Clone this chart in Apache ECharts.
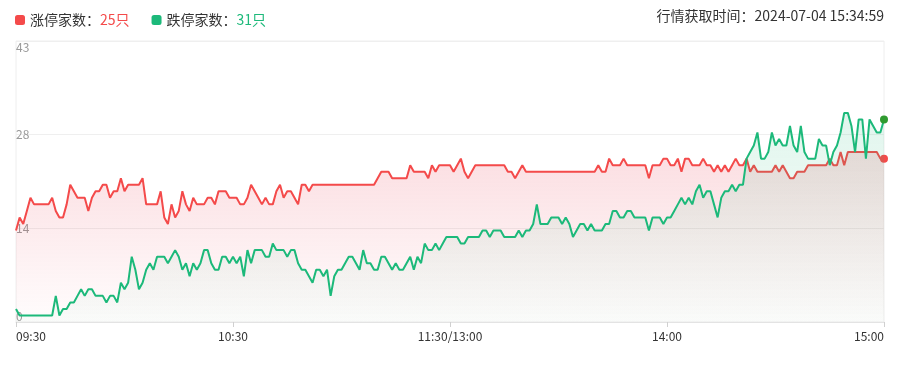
<!DOCTYPE html>
<html>
<head>
<meta charset="utf-8">
<script src="https://cdn.jsdelivr.net/npm/echarts@6/dist/echarts.min.js"></script>
<style>
html,body{margin:0;padding:0;background:#fff;}
#chart{width:909px;height:365px;}
</style>
</head>
<body>
<div id="chart"></div>
<script>
// ---- data ----
const seriesNames = ['涨停家数', '跌停家数'];
const xTickLabels = ['09:30', '10:30', '11:30/13:00', '14:00', '15:00'];
const yMax = 43;
const updateTime = '2024-07-04 15:34:59';

// 涨停家数 per minute (09:30..11:30, 13:01..15:00)
const limitUp = [
  14,16,15,17,19,18,18,18,18,18,
  19,17,16,16,18,21,20,19,19,19,
  17,19,20,20,21,21,19,20,20,22,
  20,21,21,21,21,22,18,18,18,18,
  20,16,15,18,16,17,20,18,17,19,
  18,18,18,19,19,18,20,20,20,19,
  19,19,18,18,19,21,20,19,18,19,
  18,18,20,21,19,20,20,19,18,21,
  21,20,21,21,21,21,21,21,21,21,
  21,21,21,21,21,21,21,21,21,21,
  22,23,23,23,22,22,22,22,22,24,
  23,23,23,23,22,24,23,24,24,24,
  24,23,24,25,23,22,23,24,24,24,
  24,24,24,24,24,24,23,23,22,23,
  24,23,23,23,23,23,23,23,23,23,
  23,23,23,23,23,23,23,23,23,23,
  23,24,23,23,25,24,24,24,25,24,
  24,24,24,24,24,22,24,24,24,25,
  25,24,24,25,23,25,25,24,24,24,
  25,24,24,23,24,23,24,23,24,25,
  24,24,25,23,24,23,23,23,23,23,
  24,23,24,23,22,22,23,23,23,24,
  24,24,24,24,24,25,24,24,26,24,
  26,26,26,26,26,26,26,26,26,25,
  25
];

// 跌停家数 per minute
const limitDown = [
  2,1,1,1,1,1,1,1,1,1,
  1,4,1,2,2,3,3,4,5,4,
  5,5,4,4,4,3,4,4,3,6,
  5,6,10,8,5,6,8,9,8,10,
  10,10,9,10,11,10,8,9,7,9,
  8,9,11,11,9,8,8,10,10,9,
  10,9,10,7,11,9,11,11,11,10,
  10,12,11,11,11,10,11,11,9,8,
  8,7,6,8,8,7,8,4,7,8,
  8,9,10,10,9,8,11,9,9,8,
  8,10,10,9,8,9,8,8,9,10,
  8,10,9,12,11,11,12,11,12,13,
  13,13,13,12,12,13,13,13,13,14,
  14,13,14,14,14,13,13,13,13,14,
  13,14,14,15,18,15,15,15,16,16,
  16,15,16,15,13,14,15,15,14,15,
  14,14,14,15,15,17,17,16,16,17,
  17,16,16,16,16,14,16,16,16,15,
  16,16,17,18,19,18,19,18,20,21,
  19,20,20,18,16,19,20,20,21,20,
  21,21,25,26,27,29,25,25,26,29,
  27,28,27,27,30,27,26,30,26,25,
  25,25,28,27,27,24,26,27,29,32,
  32,30,26,31,31,25,31,30,29,29,
  31
];

// minute categories
function buildTimes() {
  const out = [];
  const pad = n => (n < 10 ? '0' : '') + n;
  for (let m = 9 * 60 + 30; m <= 11 * 60 + 30; m++) out.push(pad(Math.floor(m / 60)) + ':' + pad(m % 60));
  for (let m = 13 * 60 + 1; m <= 15 * 60; m++) out.push(pad(Math.floor(m / 60)) + ':' + pad(m % 60));
  return out;
}
const times = buildTimes();

// ---- chart ----
const RED = '#f44a4a';
const GREEN = '#1cb97a';
const FONT = '"Noto Sans CJK SC", "Noto Sans", sans-serif';

function withEndDot(arr, dotColor) {
  return arr.map((v, i) => i === arr.length - 1
    ? { value: v, symbol: 'circle', symbolSize: 8, itemStyle: { color: dotColor } }
    : v);
}

const chart = echarts.init(document.getElementById('chart'), null, { renderer: 'canvas' });
chart.setOption({
  animation: false,
  textStyle: { fontFamily: FONT },
  title: {
    text: '行情获取时间：' + updateTime,
    right: 25, top: 9, padding: 0,
    textStyle: { fontSize: 14, fontWeight: 'normal', color: '#333', fontFamily: FONT }
  },
  legend: {
    left: 15, top: 13, padding: 0,
    itemWidth: 10, itemHeight: 10, itemGap: 22,
    icon: 'roundRect',
    data: seriesNames,
    formatter: function (name) {
      if (name === seriesNames[0]) return '{n|' + name + '：}{r|' + limitUp[limitUp.length - 1] + '只}';
      return '{n|' + name + '：}{g|' + limitDown[limitDown.length - 1] + '只}';
    },
    textStyle: {
      fontSize: 14, color: '#333', fontFamily: FONT,
      rich: {
        n: { fontSize: 14, color: '#333', fontFamily: FONT },
        r: { fontSize: 14, color: RED, fontFamily: FONT },
        g: { fontSize: 14, color: GREEN, fontFamily: FONT }
      }
    }
  },
  grid: {
    left: 16, right: 25, top: 41, bottom: 43,
    show: true, borderColor: '#eeeeee', borderWidth: 1
  },
  xAxis: {
    type: 'category',
    data: times,
    boundaryGap: false,
    axisLine: { lineStyle: { color: '#e3e3e3' } },
    axisTick: {
      show: true, length: 5,
      interval: function (i) { return i % 60 === 0; },
      lineStyle: { color: '#d0d0d0' }
    },
    axisLabel: {
      interval: function (i) { return i % 60 === 0; },
      formatter: function (v, i) { return xTickLabels[Math.round(i / 60)]; },
      color: '#333', fontSize: 12, fontFamily: FONT, margin: 8,
      alignMinLabel: 'left', alignMaxLabel: 'right'
    },
    splitLine: { show: false }
  },
  yAxis: {
    type: 'value',
    min: 0, max: yMax, interval: yMax / 3,
    axisLine: { show: false },
    axisTick: { show: false },
    axisLabel: {
      inside: true, margin: 0,
      color: '#999', fontSize: 12, fontFamily: FONT,
      formatter: function (v) { return String(Math.floor(v + 1e-9)); },
      verticalAlignMinLabel: 'bottom', verticalAlignMaxLabel: 'top'
    },
    splitLine: { lineStyle: { color: '#efefef' } }
  },
  series: [
    {
      name: seriesNames[0], type: 'line',
      data: withEndDot(limitUp, RED),
      symbol: 'none', showSymbol: true, showAllSymbol: true,
      lineStyle: { color: RED, width: 2 },
      itemStyle: { color: RED },
      areaStyle: {
        color: new echarts.graphic.LinearGradient(0, 0, 0, 1, [
          { offset: 0, color: 'rgba(236,72,92,0.26)' },
          { offset: 1, color: 'rgba(236,72,92,0.02)' }
        ])
      },
      z: 3
    },
    {
      name: seriesNames[1], type: 'line',
      data: withEndDot(limitDown, '#2f9a2f'),
      symbol: 'none', showSymbol: true, showAllSymbol: true,
      lineStyle: { color: GREEN, width: 2 },
      itemStyle: { color: GREEN },
      areaStyle: {
        color: new echarts.graphic.LinearGradient(0, 0, 0, 1, [
          { offset: 0, color: 'rgba(29,185,120,0.19)' },
          { offset: 1, color: 'rgba(29,185,120,0.03)' }
        ])
      },
      z: 4
    }
  ]
});
</script>
</body>
</html>
